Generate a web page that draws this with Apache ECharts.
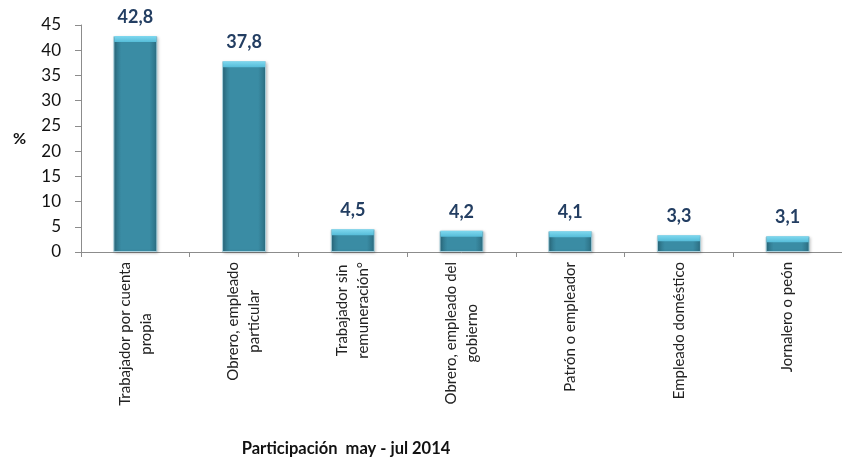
<!DOCTYPE html>
<html lang="es">
<head>
    <meta charset="UTF-8">
    <title>Participación may - jul 2014</title>
    <script src="https://cdn.jsdelivr.net/npm/echarts@6/dist/echarts.min.js"></script>
    <style>
        html, body { margin: 0; padding: 0; background: #fff; }
        #chart { width: 842px; height: 460px; }
    </style>
</head>
<body>
    <div id="chart"></div>

    <script>
        // categorías (con salto de línea como en el original)
        const categorias = [
            'Trabajador por cuenta\npropia',
            'Obrero, empleado\nparticular',
            'Trabajador sin\nremuneración°',
            'Obrero, empleado del\ngobierno',
            'Patrón o empleador',
            'Empleado doméstico',
            'Jornalero o peón'
        ];
        const participacion = [42.8, 37.8, 4.5, 4.2, 4.1, 3.3, 3.1];
        const yTicks = [0, 5, 10, 15, 20, 25, 30, 35, 40, 45];

        const FONT = 'Lato, "Open Sans", sans-serif';

        const chart = echarts.init(document.getElementById('chart'));

        const option = {
            animation: false,
            grid: { left: 81, top: 25, width: 770, bottom: 208, containLabel: false },
            graphic: [{
                type: 'text',
                x: 346,
                y: 449,
                style: {
                    text: 'Participación  may - jul 2014',
                    font: 'bold 16.5px ' + FONT,
                    fill: '#111',
                    align: 'center',
                    verticalAlign: 'middle'
                }
            }],
            xAxis: {
                type: 'category',
                data: categorias,
                axisLine: { lineStyle: { color: '#8c8c8c', width: 1 } },
                axisTick: { show: true, length: 5, lineStyle: { color: '#8c8c8c' } },
                axisLabel: {
                    rotate: 90,
                    margin: 10,
                    interval: 0,
                    formatter: v => v.split('\n').map(l => '{c|' + l + '}').join('\n'),
                    rich: {
                        c: { align: 'center', fontFamily: FONT, fontSize: 15, color: '#222', lineHeight: 21 }
                    }
                }
            },
            yAxis: {
                type: 'value',
                min: yTicks[0],
                max: yTicks[yTicks.length - 1],
                interval: 5,
                name: '%',
                nameLocation: 'middle',
                nameRotate: 0,
                nameGap: 55,
                nameTextStyle: { fontFamily: FONT, fontWeight: 'bold', fontSize: 16, color: '#111' },
                splitLine: { show: false },
                axisLine: { show: true, lineStyle: { color: '#8c8c8c' } },
                axisTick: { show: true, length: 6, lineStyle: { color: '#8c8c8c' } },
                axisLabel: { margin: 20, fontFamily: FONT, fontSize: 17, color: '#111' }
            },
            series: [
                {
                    name: 'Participación',
                    type: 'bar',
                    data: participacion,
                    barWidth: 44,
                    itemStyle: {
                        color: new echarts.graphic.LinearGradient(0, 0, 1, 0, [
                            { offset: 0, color: '#2b6c80' },
                            { offset: 0.18, color: '#3a8ca4' },
                            { offset: 0.82, color: '#3a8ca4' },
                            { offset: 1, color: '#2b6c80' }
                        ]),
                        borderColor: '#a9d0dc',
                        borderWidth: 1,
                        shadowColor: 'rgba(0,0,0,0.25)',
                        shadowBlur: 3,
                        shadowOffsetX: 1,
                        shadowOffsetY: 1
                    },
                    label: {
                        show: true,
                        position: 'top',
                        distance: 10,
                        fontFamily: FONT,
                        fontWeight: 'bold',
                        fontSize: 18,
                        color: '#233e62',
                        formatter: p => p.value.toFixed(1).replace('.', ',')
                    },
                    z: 2
                },
                {
                    // tapa clara superior de cada barra
                    type: 'pictorialBar',
                    data: participacion,
                    symbol: 'rect',
                    symbolSize: [42, 6],
                    symbolPosition: 'end',
                    symbolOffset: [0, 0],
                    itemStyle: {
                        color: new echarts.graphic.LinearGradient(0, 0, 0, 1, [
                            { offset: 0, color: '#7fd8ef' },
                            { offset: 1, color: '#55bcd8' }
                        ])
                    },
                    silent: true,
                    z: 3
                }
            ]
        };

        chart.setOption(option);
    </script>
</body>
</html>
